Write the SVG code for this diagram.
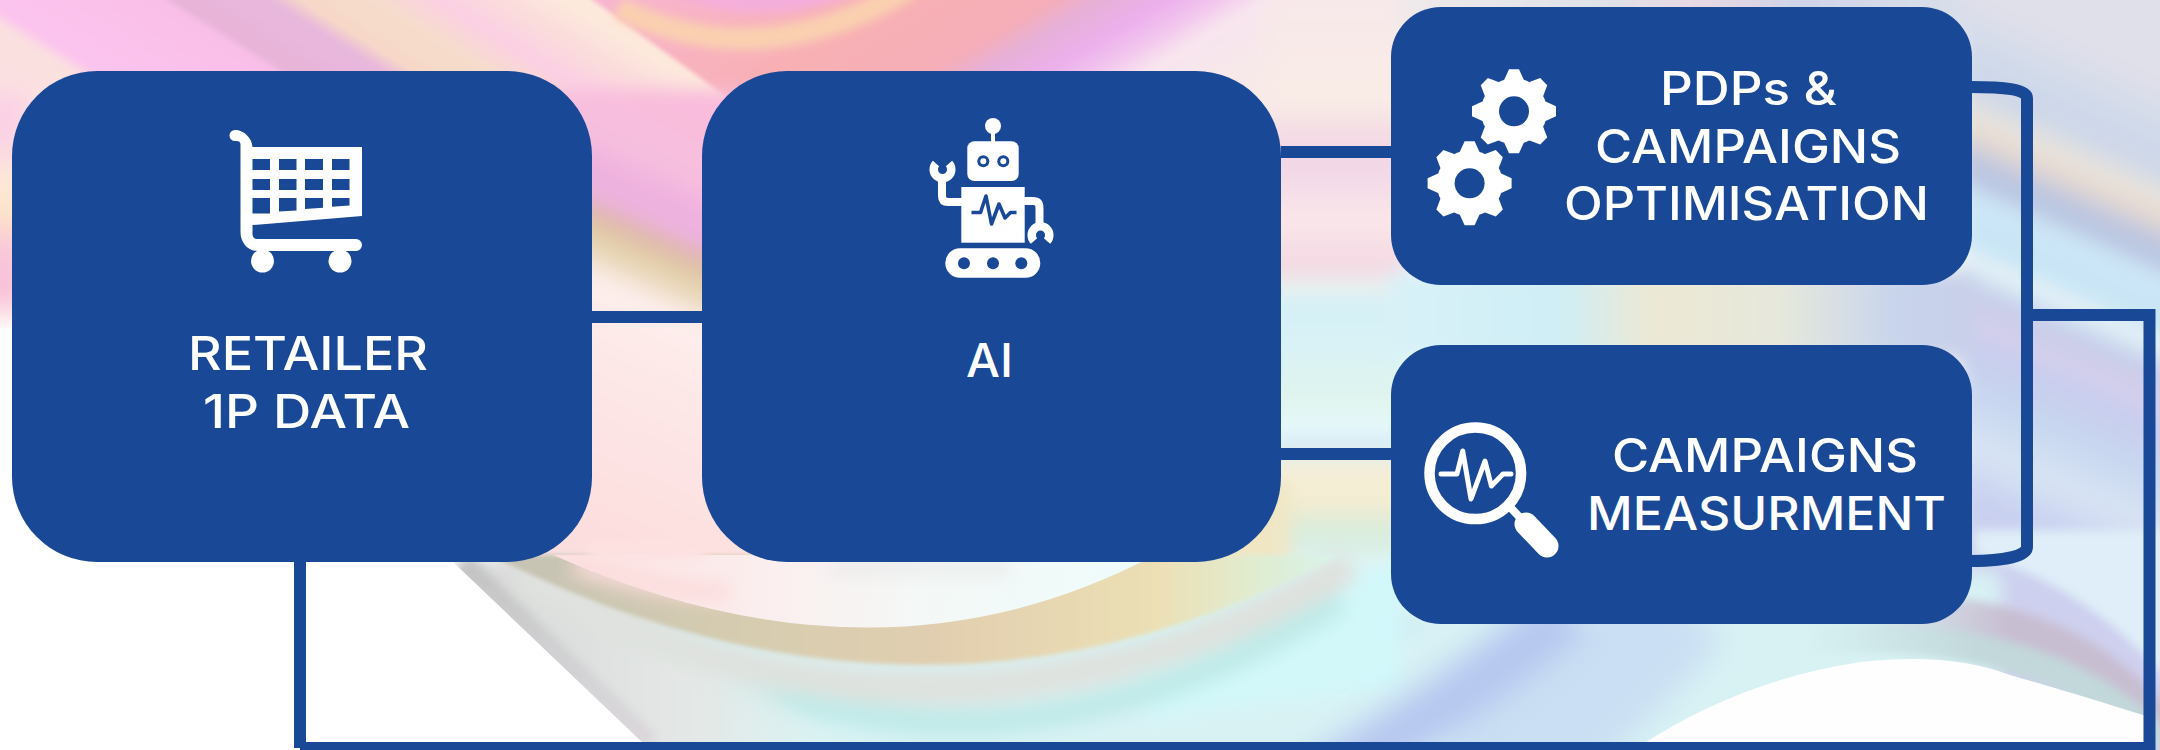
<svg xmlns="http://www.w3.org/2000/svg" xmlns:xlink="http://www.w3.org/1999/xlink" width="2160" height="750" viewBox="0 0 2160 750">
<style>
.node{fill:#194996}
.wire{fill:none;stroke:#194996;stroke-width:12}
.t{fill:#fff;font-family:"Inter","Noto Sans","Liberation Sans",sans-serif;font-size:46px;font-weight:500}
.ic{fill:#fff}
.cut{fill:#194996}
.cutl{fill:none;stroke:#194996;stroke-linejoin:round}
.wl{fill:none;stroke:#fff}
</style>
<defs>
<filter id="b2" filterUnits="userSpaceOnUse" x="-60" y="-60" width="2280" height="870"><feGaussianBlur stdDeviation="2"/></filter>
<filter id="b5" filterUnits="userSpaceOnUse" x="-60" y="-60" width="2280" height="870"><feGaussianBlur stdDeviation="5"/></filter>
<filter id="b8" filterUnits="userSpaceOnUse" x="-60" y="-60" width="2280" height="870"><feGaussianBlur stdDeviation="9"/></filter>
<filter id="b16" filterUnits="userSpaceOnUse" x="-60" y="-60" width="2280" height="870"><feGaussianBlur stdDeviation="16"/></filter>
<linearGradient id="gTL" gradientUnits="userSpaceOnUse" x1="-300" y1="0" x2="560" y2="0" gradientTransform="matrix(1 0 1.6 1 0 0)">
<stop offset="0" stop-color="#fbe2e4"/><stop offset=".30" stop-color="#fbe0e0"/><stop offset=".33" stop-color="#fbc4ee"/><stop offset=".535" stop-color="#f9bfe8"/><stop offset=".552" stop-color="#e8b4d8"/><stop offset=".663" stop-color="#e8b8dc"/><stop offset=".698" stop-color="#f7d8c8"/><stop offset=".785" stop-color="#f6dccc"/><stop offset=".86" stop-color="#fcd0e4"/><stop offset=".93" stop-color="#fbdcdc"/><stop offset="1" stop-color="#fde8dc"/>
</linearGradient>
<linearGradient id="gTR" gradientUnits="userSpaceOnUse" x1="600" y1="0" x2="1450" y2="0" gradientTransform="matrix(1 0 -1.67 1 0 0)">
<stop offset="0" stop-color="#f8b6d0"/><stop offset=".35" stop-color="#f8b0b4"/><stop offset=".53" stop-color="#f6aeb8"/><stop offset=".59" stop-color="#e6b0d8"/><stop offset=".67" stop-color="#ecb0ec"/><stop offset=".73" stop-color="#f3c8ee"/><stop offset=".78" stop-color="#f8e4ee"/><stop offset="1" stop-color="#f6ece6"/>
</linearGradient>
<linearGradient id="gLeft" x1="0" y1="0" x2="0" y2="1">
<stop offset="0" stop-color="#fbd0e6"/><stop offset=".2" stop-color="#fbd4e4"/><stop offset=".36" stop-color="#fde8d8"/><stop offset=".5" stop-color="#fde4c8"/><stop offset=".65" stop-color="#f8c8d8"/><stop offset=".84" stop-color="#f8c0d8"/><stop offset=".95" stop-color="#fde8e8"/><stop offset="1" stop-color="#fff"/>
</linearGradient>
<linearGradient id="gGap" gradientUnits="userSpaceOnUse" x1="647" y1="100" x2="647" y2="560" gradientTransform="translate(647 0) skewY(24) translate(-647 0)">
<stop offset="0" stop-color="#f9bcdc"/><stop offset=".11" stop-color="#f7c0de"/><stop offset=".207" stop-color="#eeb0e0"/><stop offset=".265" stop-color="#ecb4dc"/><stop offset=".287" stop-color="#dfb4ac"/><stop offset=".348" stop-color="#e2d0a8"/><stop offset=".402" stop-color="#f0e0cc"/><stop offset=".435" stop-color="#fdeeec"/><stop offset=".652" stop-color="#fde6e6"/><stop offset="1" stop-color="#fddede"/>
</linearGradient>
<linearGradient id="gMid" gradientUnits="userSpaceOnUse" x1="0" y1="0" x2="0" y2="570">
<stop offset="0" stop-color="#f8e8ea"/><stop offset=".175" stop-color="#f9ece6"/><stop offset=".25" stop-color="#f3d8e4"/><stop offset=".3" stop-color="#f2d8e8"/><stop offset=".385" stop-color="#fae6ea"/><stop offset=".47" stop-color="#f4d8e2"/><stop offset=".505" stop-color="#e8f2f0"/><stop offset=".53" stop-color="#d5f0f6"/><stop offset=".6" stop-color="#d8f2f6"/><stop offset=".7" stop-color="#e0f4ee"/><stop offset=".755" stop-color="#e6f8fc"/><stop offset=".785" stop-color="#d0e8f4"/><stop offset=".81" stop-color="#f4f0dc"/><stop offset=".88" stop-color="#f4ecd0"/><stop offset=".93" stop-color="#d8ecdc"/><stop offset="1" stop-color="#dff4f4"/>
</linearGradient>
<linearGradient id="gRight" gradientUnits="userSpaceOnUse" x1="1980" y1="0" x2="1980" y2="600" gradientTransform="translate(1980 0) skewY(24) translate(-1980 0)">
<stop offset="0" stop-color="#e0e0ea"/><stop offset=".117" stop-color="#ccd8ea"/><stop offset=".155" stop-color="#d0d8e8"/><stop offset=".195" stop-color="#e8e4dc"/><stop offset=".233" stop-color="#e6d8d0"/><stop offset=".267" stop-color="#c0c8e0"/><stop offset=".305" stop-color="#b8c4e0"/><stop offset=".328" stop-color="#cde6f6"/><stop offset=".417" stop-color="#c8e6f6"/><stop offset=".438" stop-color="#f0f4f8"/><stop offset=".462" stop-color="#cfe6f4"/><stop offset=".488" stop-color="#c8cce8"/><stop offset=".545" stop-color="#d4d0ec"/><stop offset=".583" stop-color="#c8cdee"/><stop offset=".667" stop-color="#c8d8f0"/><stop offset=".75" stop-color="#d8e4f4"/><stop offset=".833" stop-color="#c8d0f0"/><stop offset="1" stop-color="#cfd0ee"/>
</linearGradient>
<linearGradient id="gStrip" gradientUnits="userSpaceOnUse" x1="1391" y1="0" x2="1972" y2="0">
<stop offset="0" stop-color="#d8f2f8"/><stop offset=".29" stop-color="#cfeef6"/><stop offset=".45" stop-color="#ece8d4"/><stop offset=".67" stop-color="#e6e8dc"/><stop offset=".87" stop-color="#c8d4ec"/><stop offset="1" stop-color="#c8d0e8"/>
</linearGradient>
<linearGradient id="gTop" gradientUnits="userSpaceOnUse" x1="1391" y1="0" x2="1972" y2="0">
<stop offset="0" stop-color="#f0eaea"/><stop offset=".36" stop-color="#dfe2e8"/><stop offset=".53" stop-color="#e8d8e4"/><stop offset=".7" stop-color="#d0d4e8"/><stop offset="1" stop-color="#d8e0ea"/>
</linearGradient>
<linearGradient id="gTan" gradientUnits="userSpaceOnUse" x1="490" y1="0" x2="1340" y2="0">
<stop offset="0" stop-color="#c4c2b4"/><stop offset=".3" stop-color="#d6ccb0"/><stop offset=".54" stop-color="#e2cfb0"/><stop offset=".78" stop-color="#ecdfb4"/><stop offset=".9" stop-color="#e0ecd0"/><stop offset="1" stop-color="#d8f4ec"/>
</linearGradient>
<linearGradient id="gBowl" gradientUnits="userSpaceOnUse" x1="553" y1="0" x2="1155" y2="0">
<stop offset="0" stop-color="#fde0e0"/><stop offset=".35" stop-color="#fbeeee"/><stop offset=".6" stop-color="#f4f8f6"/><stop offset="1" stop-color="#eefcfc"/>
</linearGradient>
<linearGradient id="gEdge" gradientUnits="userSpaceOnUse" x1="0" y1="560" x2="0" y2="745">
<stop offset="0" stop-color="#c2c2c2"/><stop offset=".5" stop-color="#d0d0d2"/><stop offset="1" stop-color="#dcd8dc"/>
</linearGradient>
<linearGradient id="gGrey" gradientUnits="userSpaceOnUse" x1="460" y1="0" x2="860" y2="0">
<stop offset="0" stop-color="#d8d8d8"/><stop offset=".6" stop-color="#e4e8e6"/><stop offset="1" stop-color="#e0f2f0" stop-opacity="0"/>
</linearGradient>
<linearGradient id="gB1" gradientUnits="userSpaceOnUse" x1="1860" y1="0" x2="2010" y2="0">
<stop offset="0" stop-color="#c8bed2" stop-opacity="0"/><stop offset="1" stop-color="#c8bed2"/>
</linearGradient>
<linearGradient id="gB2" gradientUnits="userSpaceOnUse" x1="1800" y1="0" x2="1980" y2="0">
<stop offset="0" stop-color="#c2d8da" stop-opacity="0"/><stop offset="1" stop-color="#c2d8da"/>
</linearGradient>
<g id="gear">
<circle class="ic" r="33"/>
<path id="tooth" class="ic" d="M-10-31-5-42H5L10-31Z"/>
<use xlink:href="#tooth" href="#tooth" transform="rotate(45)"/>
<use xlink:href="#tooth" href="#tooth" transform="rotate(90)"/>
<use xlink:href="#tooth" href="#tooth" transform="rotate(135)"/>
<use xlink:href="#tooth" href="#tooth" transform="rotate(180)"/>
<use xlink:href="#tooth" href="#tooth" transform="rotate(225)"/>
<use xlink:href="#tooth" href="#tooth" transform="rotate(270)"/>
<use xlink:href="#tooth" href="#tooth" transform="rotate(315)"/>
<circle class="cut" r="15"/>
</g>
</defs>

<g id="background">
<rect x="-60" y="-60" width="2280" height="870" fill="#fff"/>
<g filter="url(#b2)">
<path d="M-60-60H510L868 200H-60Z" fill="url(#gTL)"/>
<path d="M510-60H1450V200H868Z" fill="url(#gTR)"/>
</g>
<g filter="url(#b5)">
<path d="M640-20Q760 45 885-20Z" fill="#f4aedc"/>
<path d="M618 8Q760 78 910-12" fill="none" stroke="#fad0b0" stroke-width="22"/>
</g>
<g filter="url(#b8)">
<rect x="-60" y="95" width="85" height="235" fill="url(#gLeft)"/>
<rect x="500" y="90" width="300" height="480" fill="url(#gGap)"/>
<rect x="1265" y="-20" width="145" height="590" fill="url(#gMid)"/>
<rect x="1180" y="480" width="110" height="100" fill="#f0e6c4"/>
<rect x="1400" y="-40" width="580" height="75" fill="url(#gTop)"/>
<rect x="1960" y="-60" width="260" height="830" fill="url(#gRight)"/>
<rect x="1391" y="270" width="581" height="90" fill="url(#gStrip)"/>
<rect x="440" y="572" width="1560" height="230" fill="#d8f2f4"/>
</g>
<g filter="url(#b8)">
<path d="M1170 710Q1320 650 1420 625" fill="none" stroke="#c0e4f4" stroke-width="6"/>
<path d="M1100 620Q1250 600 1400 560V690Q1250 700 1150 720Z" fill="#d2f8fa"/>
</g>
<g filter="url(#b16)">
<path d="M1680 600Q1600 690 1480 790" fill="none" stroke="#cadff3" stroke-width="120"/>
<path d="M1570 610Q1460 700 1310 790" fill="none" stroke="#b6c6f0" stroke-width="55"/>
</g>
<g filter="url(#b5)">
<path d="M1975 555Q2090 585 2175 690V530H1975Z" fill="#dfeef8"/>
<path d="M1860 612Q2060 600 2160 725" fill="none" stroke="url(#gB1)" stroke-width="34"/>
<path d="M1800 640Q2050 625 2160 745" fill="none" stroke="url(#gB2)" stroke-width="30"/>
</g>
<g filter="url(#b8)">
<path d="M590 600Q950 845 1340 600" fill="none" stroke="#bfeae8" stroke-width="26"/>
<path d="M450 560L660 770H880L580 560Z" fill="url(#gGrey)"/>
<path d="M520 575Q940 805 1350 565" fill="none" stroke="#dfe2de" stroke-width="34"/>
</g>
<g filter="url(#b2)"><path d="M490 555Q930 775 1340 555Z" fill="url(#gTan)"/></g>
<path d="M553 555Q880 700 1155 555Z" fill="url(#gBowl)"/>
<g filter="url(#b8)">
<path d="M575 565Q650 590 730 592" fill="none" stroke="#fcdcdc" stroke-width="18"/>
<path d="M830 568H1010" fill="none" stroke="#e6e6e6" stroke-width="10"/>
</g>
<g filter="url(#b5)"><path d="M590 552H705" fill="none" stroke="#fde2e2" stroke-width="16"/></g>
<g filter="url(#b5)"><path d="M462 563L650 744" fill="none" stroke="url(#gEdge)" stroke-width="22"/></g>
<path d="M-60 328H454V563L644 744V790H-60Z" fill="#fff"/>
<path d="M1640 746Q1740 680 1861 662Q1950 652 2010 675Q2080 695 2146 716V746Z" fill="#fefefe"/>
</g>

<g id="connectors">
<path class="wire" d="M592 317H702"/>
<path class="wire" d="M1281 152H1391"/>
<path class="wire" d="M1281 454H1391"/>
<path class="wire" d="M1971 87C2003 87 2027 89 2027 98V547C2027 556 2003 561 1971 561"/>
<path class="wire" d="M2027 315H2149.500V748H300"/>
<path class="wire" d="M300 562V748"/>
</g>

<g id="node-retailer">
<rect class="node" x="12" y="71" width="580" height="491" rx="85"/>
<path class="ic" d="M235 130C244 130 252 138 252.500 147H362V216L252.500 225V234C252.500 237 254 239 257 239H356A6 6 0 0 1 356 251H258C247 251 240.500 242 240.500 232V146C240.500 142 240 141 235 141A5.500 5.500 0 0 1 235 130Z"/>
<g class="cut">
<path d="M252.500 159H270V170H252.500ZM279 159H296.500V170H279ZM305 159H323V170H305ZM332 159H349.500V170H332ZM252.500 179H270V190H252.500ZM279 179H296.500V190H279ZM305 179H323V190H305ZM332 179H349.500V190H332ZM252.500 198H270V213.500L252.500 213.500ZM279 198H296.500V210.500L279 211.500ZM305 198H323V207.800L305 209ZM332 198H349.500V205.500L332 206.800Z"/>
</g>
<circle class="ic" cx="262.500" cy="261" r="11.500"/>
<circle class="ic" cx="340" cy="261" r="11.500"/>
<text class="t" x="188" y="370" textLength="240" lengthAdjust="spacingAndGlyphs">RETAILER</text>
<text class="t" x="203" y="428" textLength="207" lengthAdjust="spacingAndGlyphs">1P DATA</text>
</g>

<g id="node-ai">
<rect class="node" x="702" y="71" width="579" height="491" rx="85"/>
<circle class="ic" cx="993" cy="126" r="8"/>
<rect class="ic" x="991" y="130" width="4" height="14"/>
<rect class="ic" x="967.300" y="141.300" width="51.400" height="39.700" rx="7"/>
<circle class="cut" cx="983.300" cy="161.300" r="6"/><circle class="ic" cx="983.300" cy="161.300" r="3"/>
<circle class="cut" cx="1003.300" cy="161.300" r="6"/><circle class="ic" cx="1003.300" cy="161.300" r="3"/>
<rect class="ic" x="961.300" y="187" width="63.400" height="55.700"/>
<path class="cutl" stroke-width="3.600" d="M971.500 212.500H980.500L986 196L991.500 224L999 204L1005 218L1010.500 212.500H1016.500"/>
<path class="wl" stroke-width="8" d="M962 202H948Q942 202 942 196V178"/>
<path class="wl" stroke-width="8.500" d="M936 163.500A8.800 8.800 0 1 0 949 163.500"/>
<path class="wl" stroke-width="8" d="M1024 201H1033Q1039.500 201 1039.500 208V226"/>
<path class="wl" stroke-width="8.500" d="M1034 241A8.800 8.800 0 1 1 1047 241"/>
<rect class="ic" x="945.300" y="248.300" width="95" height="29.400" rx="14.700"/>
<circle class="cut" cx="964" cy="263.300" r="6"/><circle class="cut" cx="993" cy="263.300" r="6"/><circle class="cut" cx="1021.300" cy="263.300" r="6"/>
<text class="t" x="966" y="377" textLength="47" lengthAdjust="spacingAndGlyphs">AI</text>
</g>

<g id="node-pdps">
<rect class="node" x="1391" y="7" width="581" height="278" rx="50"/>
<use xlink:href="#gear" href="#gear" x="1514" y="111.300"/>
<use xlink:href="#gear" href="#gear" x="1469.600" y="183.300"/>
<text class="t" x="1660" y="105" textLength="177" lengthAdjust="spacingAndGlyphs">PDPs &amp;</text>
<text class="t" x="1595" y="163" textLength="306" lengthAdjust="spacingAndGlyphs">CAMPAIGNS</text>
<text class="t" x="1564" y="220" textLength="365" lengthAdjust="spacingAndGlyphs">OPTIMISATION</text>
</g>

<g id="node-measurement">
<rect class="node" x="1391" y="345" width="581" height="279" rx="50"/>
<circle class="wl" cx="1475.300" cy="473.300" r="45.800" stroke-width="10.500"/>
<path class="wl" stroke-width="5" stroke-linejoin="round" stroke-linecap="round" d="M1441 474H1457L1462.700 451L1471 499L1485 461L1491.400 486L1503 474H1511"/>
<path class="wl" stroke-width="8" d="M1510 507L1526 524"/>
<path class="wl" stroke-width="23" stroke-linecap="round" d="M1526 524L1547 546"/>
<text class="t" x="1612" y="472" textLength="306" lengthAdjust="spacingAndGlyphs">CAMPAIGNS</text>
<text class="t" x="1587" y="530" textLength="359" lengthAdjust="spacingAndGlyphs">MEASURMENT</text>
</g>
</svg>
